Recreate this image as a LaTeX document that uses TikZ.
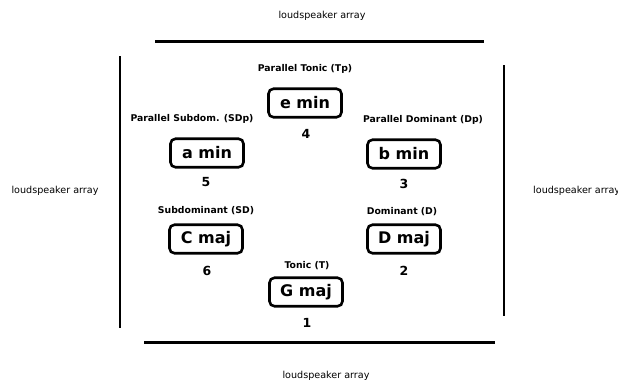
\documentclass[tikz,border=0pt]{standalone}
\usepackage{fontspec}
\setmainfont{DejaVu Sans}
\begin{document}
\begin{tikzpicture}[x=1pt,y=-1pt,
  chord/.style={draw, line width=2.6pt, rounded corners=5pt, minimum width=73pt, minimum height=28.5pt, inner sep=0pt, font=\bfseries\fontsize{16}{18}\selectfont},
  func/.style={inner sep=0pt, font=\bfseries\fontsize{9.3}{11}\selectfont},
  num/.style={inner sep=0pt, font=\bfseries\fontsize{12.5}{14}\selectfont},
  spk/.style={inner sep=0pt, font=\fontsize{9.6}{11}\selectfont},
  arr/.style={line width=3pt},
  arrv/.style={line width=2.6pt}]
\useasboundingbox (0,0) rectangle (618,380);
% loudspeaker arrays
\coordinate (t1) at (155,41); \coordinate (t2) at (484,41);
\coordinate (b1) at (144,342); \coordinate (b2) at (495,342);
\coordinate (l1) at (120,56); \coordinate (l2) at (120,328);
\coordinate (r1) at (504,65); \coordinate (r2) at (504,316);
\draw[arr] (t1) -- (t2);
\draw[arr] (b1) -- (b2);
\draw[arrv] (l1) -- (l2);
\draw[arrv] (r1) -- (r2);
\node[spk] (st) at (322,16) {loudspeaker array};
\node[spk] (sb) at (326,376) {loudspeaker array};
\node[spk] (sl) at (55,191) {loudspeaker array};
\node[spk, anchor=west] (sr) at (533,191) {loudspeaker array};
% chords
\node[chord] (emin) at (305,103) {e min};
\node[chord] (amin) at (207,153) {a min};
\node[chord] (bmin) at (404,154) {b min};
\node[chord] (cmaj) at (206,239) {C maj};
\node[chord] (dmaj) at (404,239) {D maj};
\node[chord] (gmaj) at (306,292) {G maj};
% functions
\node[func] (ftp) at (305,69) {Parallel Tonic (Tp)};
\node[func] (fsdp) at (192,119) {Parallel Subdom. (SDp)};
\node[func] (fdp) at (423,120) {Parallel Dominant (Dp)};
\node[func] (fsd) at (206,211) {Subdominant (SD)};
\node[func] (fd) at (402,212) {Dominant (D)};
\node[func] (ft) at (307,266) {Tonic (T)};
% numbers
\node[num] (n4) at (306,134) {4};
\node[num] (n5) at (206,182) {5};
\node[num] (n3) at (404,184) {3};
\node[num] (n6) at (207,271) {6};
\node[num] (n2) at (404,271) {2};
\node[num] (n1) at (307,323) {1};
\end{tikzpicture}
\end{document}
